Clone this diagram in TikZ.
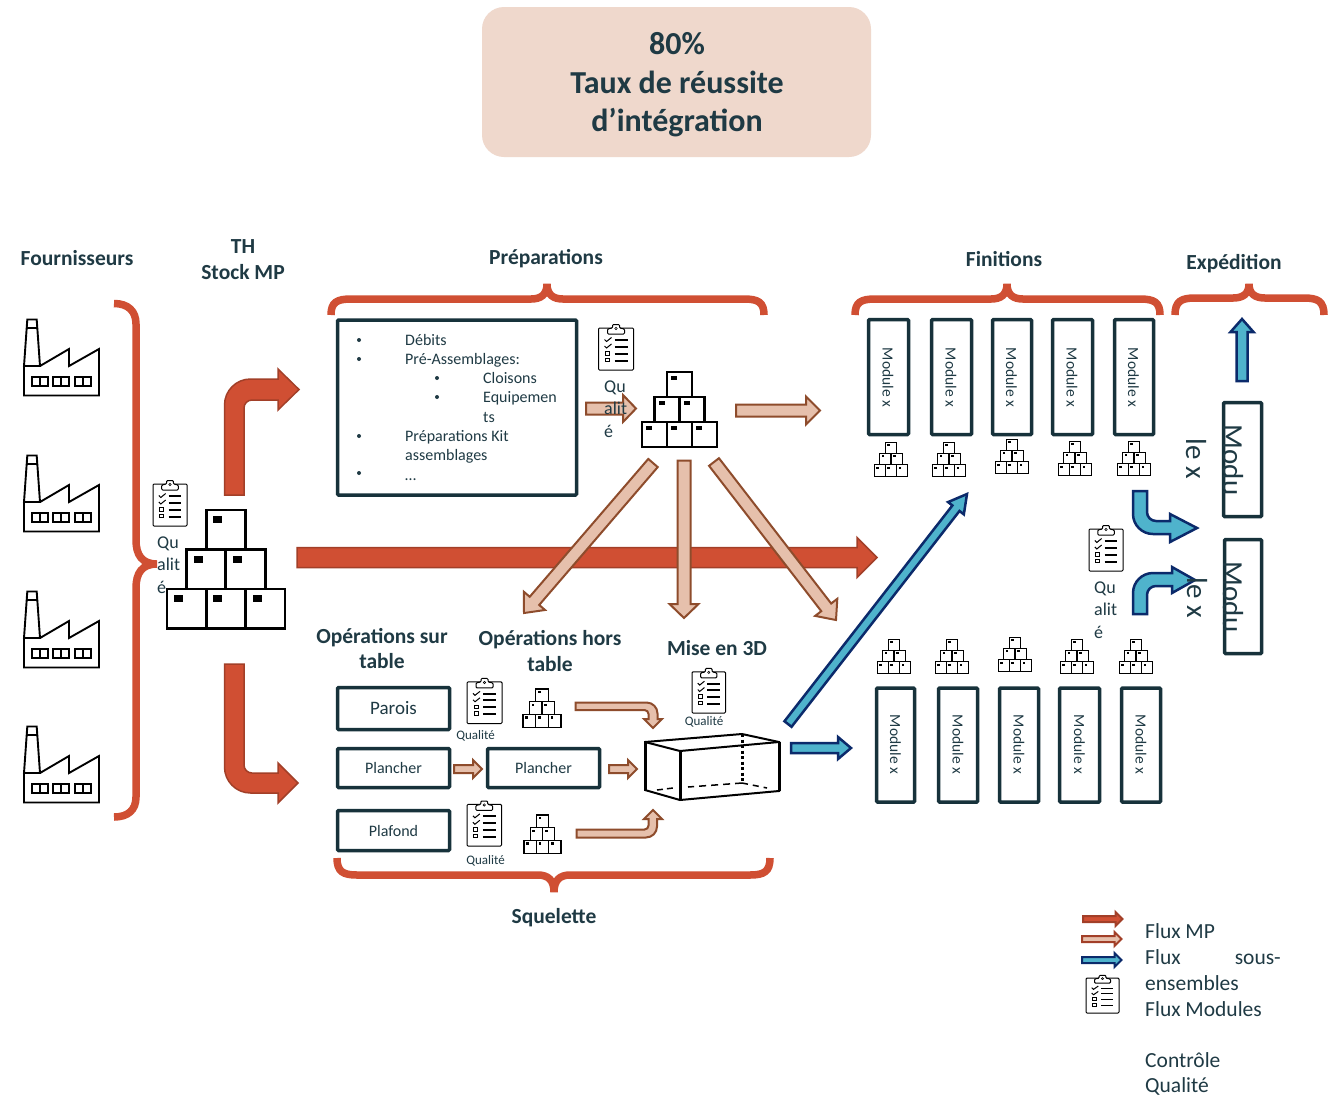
\documentclass[tikz,border=0pt]{standalone}
\usepackage{fontspec}
\setmainfont{Carlito}
\usetikzlibrary{calc}
\definecolor{ink}{HTML}{17323B}
\definecolor{txt}{HTML}{1F3A44}
\definecolor{redf}{HTML}{D04F33}
\definecolor{redd}{HTML}{A23F28}
\definecolor{palef}{HTML}{E6C0AC}
\definecolor{paled}{HTML}{8E4C2C}
\definecolor{bluef}{HTML}{4FB3CC}
\definecolor{blued}{HTML}{0B2A6B}
\definecolor{titlef}{HTML}{EFD8CC}
\newcommand{\fs}[1]{\fontsize{#1}{#1}\selectfont}
\tikzset{
  x=1pt,y=-1pt,
  hd/.style={font=\fs{21.5}\bfseries,text=txt,inner sep=0pt,align=center,anchor=base},
  tx/.style={font=\fs{#1},text=txt,inner sep=0pt},
  txl/.style={font=\fs{#1},text=txt,inner sep=0pt,anchor=base west},
  bracel/.style={draw=redf,line width=7.5pt},
  boxa/.style={draw=ink,line width=3.5pt,fill=white,inner sep=0pt,rounded corners=1pt},
  modt/.style={font=\fs{15.5},text=txt,inner sep=0pt,rotate=-90},
  modbig/.style={font=\fs{29},text=txt,inner sep=0pt,rotate=-90},
  redar/.style={fill=redf,draw=redd,line width=1.5pt,line join=miter},
  palear/.style={fill=palef,draw=paled,line width=2pt,line join=miter},
  bluear/.style={fill=bluef,draw=blued,line width=2.5pt,line join=miter},
}
% straight block arrow: style, from, to, shaft width, head width, head length
\newcommand{\blockar}[6]{%
  \coordinate (h0) at ($(#3)!#6pt!(#2)$);
  \draw[#1] ($(#2)!#4pt/2!90:(#3)$) -- ($(h0)!#4pt/2!-90:(#2)$) -- ($(h0)!#5pt/2!-90:(#2)$)
     -- (#3) -- ($(h0)!#5pt/2!90:(#2)$) -- ($(h0)!#4pt/2!90:(#2)$) -- ($(#2)!#4pt/2!-90:(#3)$) -- cycle;
}
% horizontal brace opening down or up
\newcommand{\hbrace}[6]{%
  \draw[bracel] (#1,#4) .. controls (#1,{#5+(#4-#5)*0.2}) and ({#1+6},#5) .. ({#1+20},#5)
    -- ({#2-16},#5) .. controls ({#2-6},#5) and (#2,{#5+(#6-#5)*0.3}) .. (#2,#6)
    .. controls (#2,{#5+(#6-#5)*0.3}) and ({#2+6},#5) .. ({#2+16},#5)
    -- ({#3-20},#5) .. controls ({#3-6},#5) and (#3,{#5+(#4-#5)*0.2}) .. (#3,#4);
}
% factory, top-left at x,y
\newcommand{\factory}[2]{%
  \begin{scope}[shift={(#1,#2)},line width=1.9pt,draw=black]
    \draw (3.3,0.5) -- (12.7,0.5) -- (16,47) -- (0,47) -- cycle;
    \draw (2.6,9) -- (13.4,9);
    \draw (0,47) -- (0,76.5) -- (75,76.5) -- (75,30) -- (45,47) -- (45,30) -- (16,47);
    \foreach \wx in {7.7,29.3,51}{
      \draw[line width=1.9pt] (\wx,58) rectangle ({\wx+16},67) ({\wx+8},58) -- ({\wx+8},67);
    }
  \end{scope}}
% clipboard: top-left x,y, width, height, line width of the rows
\newcommand{\clipb}[5]{%
  \begin{scope}[shift={(#1,#2)},xscale=#3/35,yscale=#4/47,draw=black]
    \draw[line width=1pt,rounded corners=1pt,fill=white] (0,5) rectangle (35,47);
    \draw[line width=1pt,fill=white,rounded corners=1pt] (9,11) -- (9,6) -- (14,5) -- (14,1.5) -- (21,1.5) -- (21,5) -- (26,6) -- (26,11) -- cycle;
    \draw[line width=0.6pt] (17.5,5.5) circle[radius=1.2];
    \foreach \ly in {17,23.5,30.5,37.5}{
      \draw[line width=#5] (16,\ly) -- (29,\ly);
    }
    \draw[line width=1pt] (6,16.5) -- (8,18.5) -- (13,14.5);
    \draw[line width=1pt] (6,23) -- (8,25) -- (13,21);
    \draw[line width=0.9pt] (7,28.5) rectangle (11,32);
    \draw[line width=0.9pt] (7,35) rectangle (11,38.5);
  \end{scope}}
% pyramid of boxes: top-left x,y, width, height, line width
\newcommand{\pyr}[5]{%
  \begin{scope}[shift={(#1,#2)},xscale=#3/118,yscale=#4/118,line width=#5,draw=black]
    \foreach \bx/\by in {0/79,39.3/79,78.6/79,19.5/39.5,59/39.5,39.3/0}{
      \draw[fill=white] (\bx,\by) rectangle ({\bx+39.3},{\by+39.5});
      \fill[black] ({\bx+7},{\by+6}) rectangle ({\bx+16},{\by+13});
    }
  \end{scope}}
\begin{document}
\begin{tikzpicture}
\useasboundingbox (0,0) rectangle (1343,1096);
\fill[white] (0,0) rectangle (1343,1096);

% title
\node[fill=titlef,rounded corners=22pt,minimum width=389pt,minimum height=150pt,inner sep=0pt] (title) at (676.5,82) {};
\node[hd,font=\fs{32}\bfseries] (t1) at (677,54.5) {80\%};
\node[hd,font=\fs{32}\bfseries] (t2) at (677,93) {Taux de réussite};
\node[hd,font=\fs{32}\bfseries] (t3) at (677,131.5) {d’intégration};

% headers
\node[hd] (hf) at (77,265) {Fournisseurs};
\node[hd] (hth) at (243,253) {TH};
\node[hd] (hst) at (243,279) {Stock MP};
\node[hd] (hpr) at (546,264) {Préparations};
\node[hd] (hfi) at (1004,266) {Finitions};
\node[hd] (hex) at (1234,269) {Expédition};
\node[hd] (hos1) at (382,643) {Opérations sur};
\node[hd] (hos2) at (382,668) {table};
\node[hd] (hoh1) at (550,645) {Opérations hors};
\node[hd] (hoh2) at (550,671) {table};
\node[hd] (h3d) at (717,655) {Mise en 3D};
\node[hd] (hsq) at (554,923) {Squelette};

% factories
\factory{24}{319}
\factory{24}{455}
\factory{24}{591}
\factory{24}{726}

% left brace
\draw[bracel] (114,303.5) .. controls (128,303.5) and (136,311) .. (136,324)
   -- (136,540) .. controls (136,555) and (142,564) .. (157,564)
   .. controls (142,564) and (136,573) .. (136,588)
   -- (136,797) .. controls (136,810) and (128,817) .. (114,817);

% top braces
\hbrace{331}{547}{764}{315}{299}{284}
\hbrace{855}{1007}{1160}{315}{299}{284}
\hbrace{1175}{1249}{1324}{315}{298}{284}
\hbrace{337}{554}{770}{858}{875}{892}

% main red arrow
\coordinate (ma) at (297,557.5);
\coordinate (mb) at (877,557.5);
\blockar{redar}{ma}{mb}{20}{40}{20}

% red bent arrows
\draw[redar] (224.5,495) [rounded corners=26pt] -- (224.5,379) [sharp corners] -- (278,379) -- (278,369) -- (299,389.5) -- (278,410) -- (278,400) [rounded corners=8pt] -- (244,400) [sharp corners] -- (244,495) -- cycle;
\draw[redar] (224.5,664) [rounded corners=26pt] -- (224.5,793) [sharp corners] -- (278,793) -- (278,803) -- (298,783) -- (278,763) -- (278,773) [rounded corners=8pt] -- (244,773) [sharp corners] -- (244,664) -- cycle;

% preparation box
\node[boxa,minimum width=239pt,minimum height=175pt] (prep) at (457,407.5) {};
\foreach \by in {340,359,436,473}{\fill[txt] (359,\by) circle[radius=2];}
\foreach \by in {378,397}{\fill[txt] (437,\by) circle[radius=2];}
\node[txl=16] (p1) at (405,345) {Débits};
\node[txl=16] (p2) at (405,364) {Pré-Assemblages:};
\node[txl=16] (p3) at (483,383) {Cloisons};
\node[txl=16] (p4) at (483,402) {Equipemen};
\node[txl=16] (p5) at (483,422) {ts};
\node[txl=16] (p6) at (405,441) {Préparations Kit};
\node[txl=16] (p7) at (405,460) {assemblages};
\node[txl=16] (p8) at (405,480) {…};

% pale arrows
\coordinate (pa1) at (586,408.5); \coordinate (pb1) at (636,408.5);
\blockar{palear}{pa1}{pb1}{12}{27}{13}
\coordinate (pa2) at (736,410.5); \coordinate (pb2) at (820,410.5);
\blockar{palear}{pa2}{pb2}{12}{28}{14}
\coordinate (pa3) at (653,463); \coordinate (pb3) at (524,613);
\blockar{palear}{pa3}{pb3}{12.5}{28}{16}
\coordinate (pa4) at (684,460.5); \coordinate (pb4) at (684,618);
\blockar{palear}{pa4}{pb4}{13}{29}{14}
\coordinate (pa5) at (714,462); \coordinate (pb5) at (836,620);
\blockar{palear}{pa5}{pb5}{12.5}{28}{16}
\coordinate (pa6) at (454,769); \coordinate (pb6) at (482,769);
\blockar{palear}{pa6}{pb6}{8}{18}{9}
\coordinate (pa7) at (609,769); \coordinate (pb7) at (637,769);
\blockar{palear}{pa7}{pb7}{8}{18}{9}
\draw[palear] (575.5,702.5) [rounded corners=11pt] -- (657.5,702.5) [sharp corners] -- (657.5,719) -- (662,719) -- (653,728) -- (644,719) -- (648.5,719) [rounded corners=4pt] -- (648.5,710) [sharp corners] -- (575.5,710) -- cycle;
\draw[palear] (576.5,837.5) [rounded corners=11pt] -- (657,837.5) [sharp corners] -- (657,819) -- (662,819) -- (653,810) -- (644,819) -- (648.5,819) [rounded corners=4pt] -- (648.5,829.5) [sharp corners] -- (576.5,829.5) -- cycle;

% pyramids
\pyr{167}{510}{118}{118}{2.8pt}
\pyr{642}{372}{75}{75}{2.2pt}
\pyr{523}{689}{38}{38}{1.1pt}
\pyr{524}{815}{37}{38}{1.1pt}
\foreach \px/\py in {874/442,932/442,995/439,1058/441,1117/441,877/639,935/639,998/637,1060/639,1119/639}{
  \pyr{\px}{\py}{34}{34}{1pt}
}

% clipboards and quality labels
\clipb{153}{479}{34}{47}{2pt}
\clipb{598.5}{323}{35}{47}{2pt}
\clipb{467}{677}{35}{46.5}{2pt}
\clipb{467}{799.5}{34.5}{46.5}{2pt}
\clipb{692}{667}{33.5}{46}{2pt}
\clipb{1089}{524}{34}{47}{2pt}
\clipb{1086}{974}{33}{39}{1pt}
\node[txl=18] (ql1) at (157,548) {Qu};
\node[txl=18] (ql2) at (157,570) {alit};
\node[txl=18] (ql3) at (157,593) {é};
\node[txl=18] (qp1) at (604,392) {Qu};
\node[txl=18] (qp2) at (604,414) {alit};
\node[txl=18] (qp3) at (604,437) {é};
\node[txl=18] (qr1) at (1094,593) {Qu};
\node[txl=18] (qr2) at (1094,615) {alit};
\node[txl=18] (qr3) at (1094,638) {é};
\node[tx=13] (qs1) at (475.5,736) {Qualité};
\node[tx=13] (qs2) at (485.5,861) {Qualité};
\node[tx=13] (qs3) at (704,722) {Qualité};

% skeleton boxes
\node[boxa,minimum width=112pt,minimum height=42pt] (parois) at (393.5,708.5) {\fs{19}\color{txt}\raisebox{-1pt}{Parois}};
\node[boxa,minimum width=112pt,minimum height=39pt] (pl1) at (393.5,768) {\fs{16}\color{txt}\raisebox{-1pt}{Plancher}};
\node[boxa,minimum width=112pt,minimum height=39pt] (pl2) at (543.5,768) {\fs{16}\color{txt}\raisebox{-1pt}{Plancher}};
\node[boxa,minimum width=112pt,minimum height=40pt] (plaf) at (393.5,830.5) {\fs{16}\color{txt}Plafond};

% cuboid
\coordinate (cA) at (645,742); \coordinate (cB) at (680,751); \coordinate (cC) at (779,742);
\coordinate (cD) at (742,734); \coordinate (cE) at (645,790); \coordinate (cF) at (680,800);
\coordinate (cG) at (779,791); \coordinate (cH) at (742,783);
\draw[line width=2pt,line join=miter,fill=white] (cA) -- (cD) -- (cC) -- (cG) -- (cF) -- (cE) -- cycle;
\draw[line width=2pt] (cA) -- (cB) -- (cC);
\draw[line width=3pt] (cA) -- (cE) (cB) -- (cF) (cC) -- (cG);
\draw[line width=3pt,dash pattern=on 3pt off 2.5pt] (cD) -- (cH);
\draw[line width=1.5pt,dash pattern=on 7pt off 5pt] (cH) -- (688,787);
\draw[line width=1.5pt,dash pattern=on 6pt off 5pt] (cH) -- (767,788);
\draw[line width=1.5pt,dash pattern=on 6pt off 4pt] (657,790) -- (673,788);

% module boxes
\foreach \mx/\mw in {888.5/40,951.5/40,1012/39,1072.5/40,1134/39}{
  \node[boxa,minimum width=\mw pt,minimum height=115pt] at (\mx,377) {};
  \node[modt] at ({\mx-0.5},377.5) {Module x};
}
\foreach \mx/\mw in {895.5/38,958/39,1019/39,1079.5/40,1141/39}{
  \node[boxa,minimum width=\mw pt,minimum height=114pt] at (\mx,745) {};
  \node[modt] at (\mx,744.5) {Module x};
}

% shipping boxes
\node[boxa,minimum width=38pt,minimum height=114pt] (ex1) at (1242.5,459.5) {};
\node[boxa,minimum width=37pt,minimum height=114pt] (ex2) at (1243,596.5) {};

% blue arrows
\coordinate (ba1) at (788,724); \coordinate (bb1) at (967,494);
\blockar{bluear}{ba1}{bb1}{9}{20}{18}
\coordinate (ba2) at (791,748); \coordinate (bb2) at (851,748);
\blockar{bluear}{ba2}{bb2}{10}{22}{13}
\coordinate (ba3) at (1242,381); \coordinate (bb3) at (1242,319);
\blockar{bluear}{ba3}{bb3}{11}{23}{13}
\draw[bluear] (1133,491) [rounded corners=20pt] -- (1133,534) [sharp corners] -- (1170,534) -- (1170,542) -- (1197,528) -- (1170,514) -- (1170,521) [rounded corners=9pt] -- (1147,521) [sharp corners] -- (1147,491) -- cycle;
\draw[bluear] (1133,614) [rounded corners=20pt] -- (1133,573) [sharp corners] -- (1172,573) -- (1172,567) -- (1195,580) -- (1172,593) -- (1172,586) [rounded corners=9pt] -- (1147,586) [sharp corners] -- (1147,614) -- cycle;

% overflowing module labels
\node[modbig] (m1a) at (1233,460) {Modu};
\node[modbig] (m1b) at (1196,459) {le x};
\node[modbig] (m2a) at (1233,597) {Modu};
\node[modbig] (m2b) at (1197,598) {le x};

% legend
\coordinate (la1) at (1083,919); \coordinate (lb1) at (1122.5,919);
\blockar{redar,line width=2pt}{la1}{lb1}{6}{14}{7}
\coordinate (la2) at (1082,939); \coordinate (lb2) at (1121.5,939);
\blockar{palear,draw=redd,line width=2pt}{la2}{lb2}{6}{14}{7}
\coordinate (la3) at (1082,960); \coordinate (lb3) at (1121.5,960);
\blockar{bluear,line width=2pt}{la3}{lb3}{6}{14}{7}
\node[txl=21.5] (l1) at (1145,938) {Flux MP};
\node[txl=21.5] (l2) at (1145,964) {Flux};
\node[font=\fs{21.5},text=txt,inner sep=0pt,anchor=base east] (l2b) at (1281,964) {sous-};
\node[txl=21.5] (l3) at (1145,990) {ensembles};
\node[txl=21.5] (l4) at (1145,1016) {Flux Modules};
\node[txl=21.5] (l5) at (1145,1067.5) {Contrôle};
\node[txl=21.5] (l6) at (1145,1092) {Qualité};
\end{tikzpicture}
\end{document}
